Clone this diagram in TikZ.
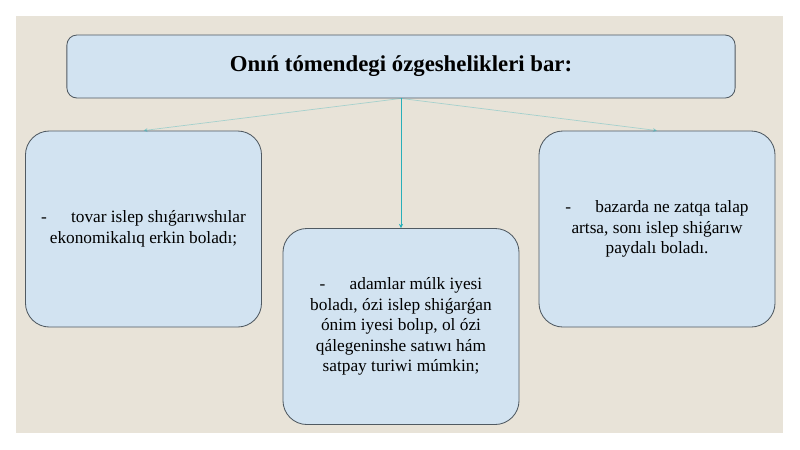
\documentclass[tikz,border=0pt]{standalone}
\usepackage{fontspec}
\setmainfont{Liberation Serif}
\usetikzlibrary{positioning}
\usetikzlibrary{arrows.meta}

\definecolor{fondo}{RGB}{232,227,216}
\definecolor{caja}{RGB}{210,227,241}
\definecolor{borde}{RGB}{80,90,98}
\definecolor{enlace}{RGB}{40,175,185}

\tikzset{
  cajita/.style={draw=borde, fill=caja, rounded corners=24*0.025cm, line width=0.6pt,
    minimum width=5.9cm, minimum height=4.9cm, align=center,
    font=\fontsize{12.3}{14.6}\selectfont, inner sep=0pt},
  titulo/.style={draw=borde, fill=caja, rounded corners=10*0.025cm, line width=0.6pt,
    minimum width=16.7cm, minimum height=1.575cm, align=center,
    font=\fontsize{16.2}{19}\selectfont\bfseries},
  flecha/.style={-{Stealth[length=3pt,width=3pt]}, enlace, line width=0.5pt}
}

\begin{document}
\begin{tikzpicture}[x=0.025cm, y=-0.025cm]
			\useasboundingbox (0,0) rectangle (800,449);
			% Fondo
			\fill[white] (0,0) rectangle (800,449);
			\fill[fondo] (16,16) rectangle (783,433);
			
			% Cajas
			\node[titulo] (tit) at (401,66.5) {Onıń tómendegi ózgeshelikleri bar:};
			\node[cajita] (izq) at (143.5,229) {-\hspace{1.4em}tovar islep shıǵarıwshılar\\ ekonomikalıq erkin boladı;};
			\node[cajita] (cen) at (401,326.5) {-\hspace{1.4em}adamlar múlk iyesi\\ boladı, ózi islep shiǵarǵan\\ ónim iyesi bolıp, ol ózi\\ qálegeninshe satıwı hám\\ satpay turiwi múmkin;};
			\node[cajita] (der) at (657,229) {-\hspace{1.4em}bazarda ne zatqa talap\\ artsa, sonı islep shiǵarıw\\ paydalı boladı.};
			
			% Conectores
			\draw[flecha, opacity=0.35] (tit.south) -- (izq.north);
			\draw[flecha, opacity=0.35] (tit.south) -- (der.north);
			\draw[flecha] (tit.south) -- (cen.north);
		\end{tikzpicture}
\end{document}
